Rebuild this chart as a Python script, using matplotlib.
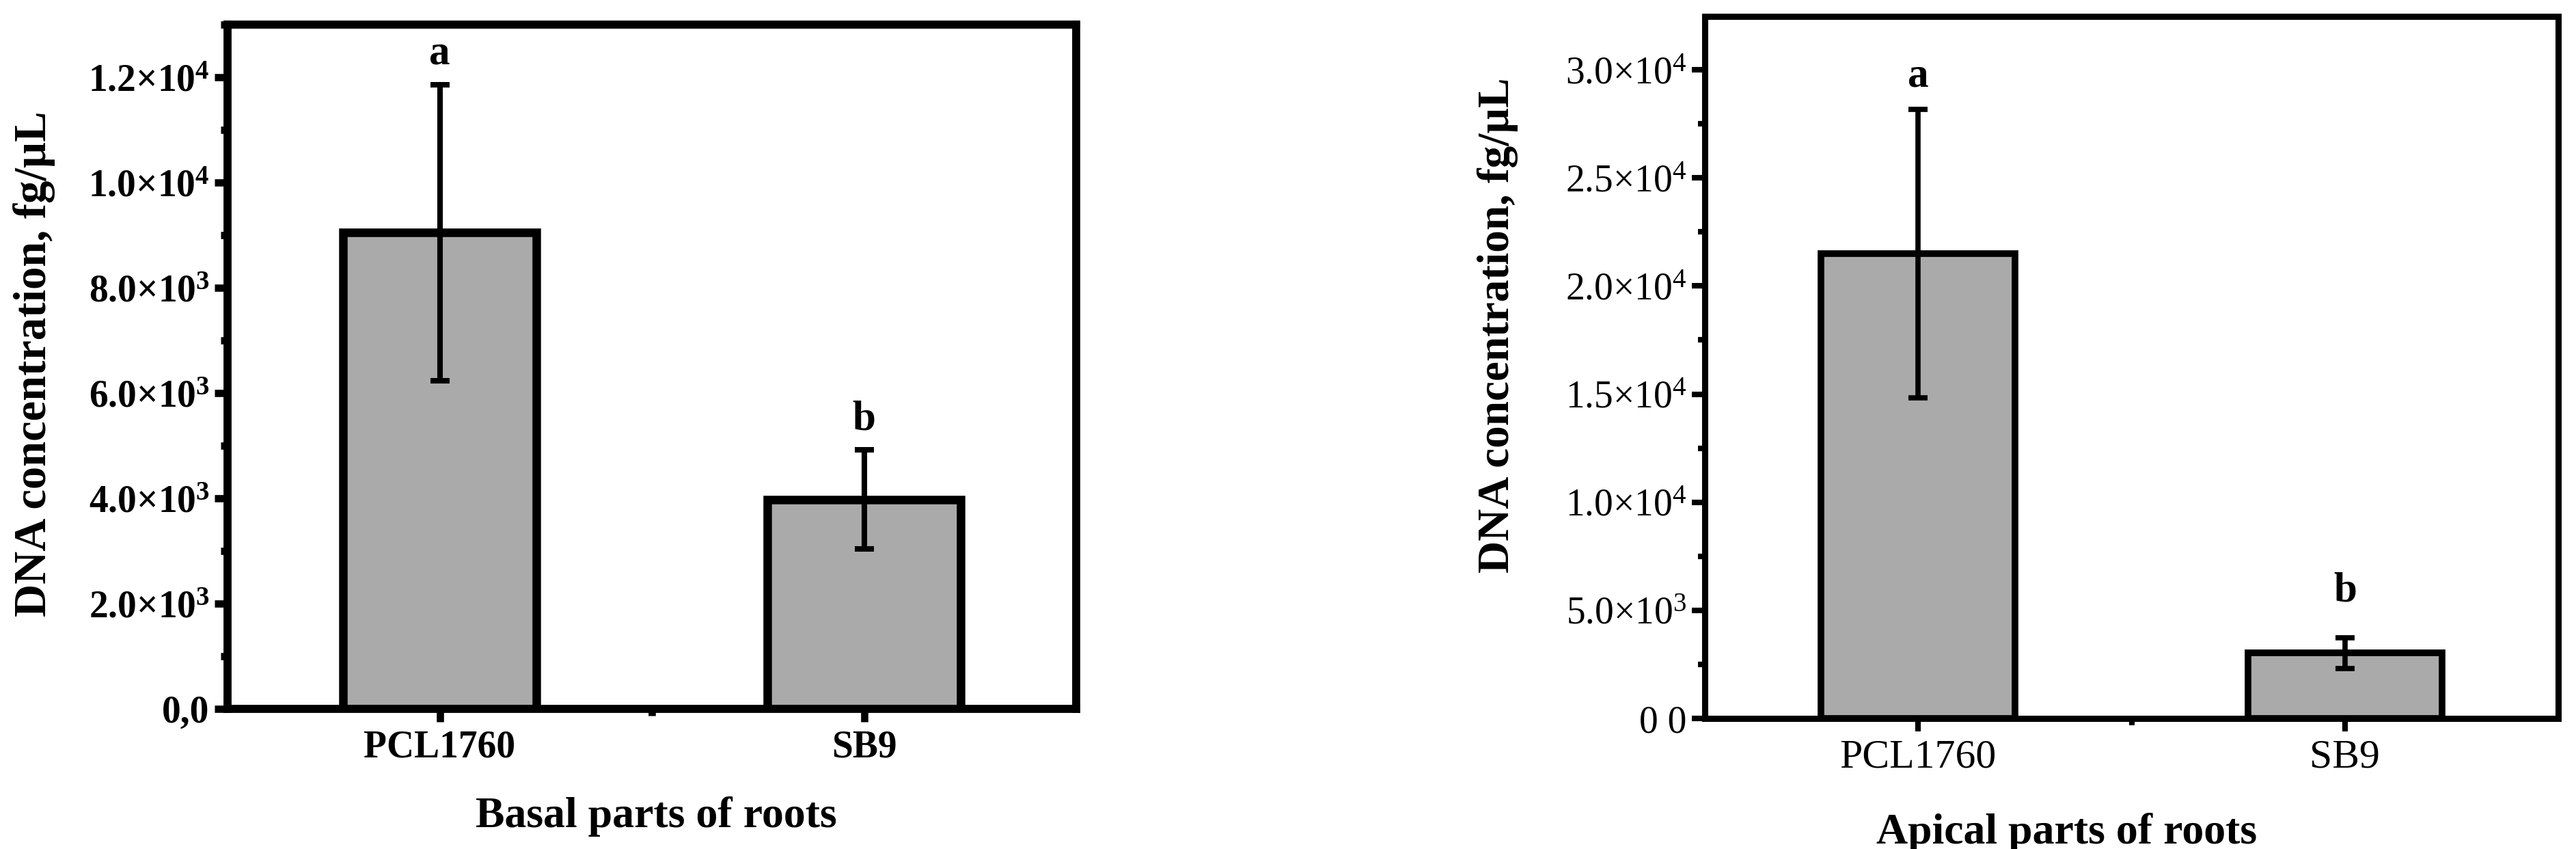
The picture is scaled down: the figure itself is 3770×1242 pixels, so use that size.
import matplotlib
matplotlib.use("Agg")
import matplotlib.pyplot as plt
from matplotlib.ticker import FixedLocator, MultipleLocator

# ---------------- data ----------------
categories = ["PCL1760", "SB9"]

basal_means = [9050, 3980]
basal_err = [2810, 940]
basal_letters = ["a", "b"]
basal_letter_y = [12450, 5500]
basal_yticks = [0, 2000, 4000, 6000, 8000, 10000, 12000]
basal_yticklabels = ["0,0",
                     r"$\mathbf{2.0{\times}10^{3}}$",
                     r"$\mathbf{4.0{\times}10^{3}}$",
                     r"$\mathbf{6.0{\times}10^{3}}$",
                     r"$\mathbf{8.0{\times}10^{3}}$",
                     r"$\mathbf{1.0{\times}10^{4}}$",
                     r"$\mathbf{1.2{\times}10^{4}}$"]

apical_means = [21500, 3030]
apical_err = [6680, 710]
apical_letters = ["a", "b"]
apical_letter_y = [29700, 5900]
apical_yticks = [0, 5000, 10000, 15000, 20000, 25000, 30000]
apical_yticklabels = ["0 0",
                      r"$5.0{\times}10^{3}$",
                      r"$1.0{\times}10^{4}$",
                      r"$1.5{\times}10^{4}$",
                      r"$2.0{\times}10^{4}$",
                      r"$2.5{\times}10^{4}$",
                      r"$3.0{\times}10^{4}$"]

ylabel_text = "DNA concentration, fg/\u00b5L"
basal_xlabel = "Basal parts of roots"
apical_xlabel = "Apical parts of roots"

# ---------------- style ----------------
plt.rcParams['font.family'] = ['Liberation Serif', 'DejaVu Serif']
plt.rcParams['mathtext.fontset'] = 'custom'
plt.rcParams['mathtext.rm'] = 'Liberation Serif'
plt.rcParams['mathtext.it'] = 'Liberation Serif:italic'
plt.rcParams['mathtext.bf'] = 'Liberation Serif:bold'

W, H = 3770, 1242
DPI = 100
fig = plt.figure(figsize=(W / DPI, H / DPI), dpi=DPI)
fig.patch.set_facecolor("white")

BAR_COLOR = "#aaaaaa"


def px_axes(x0, x1, ytop, ybot):
    return fig.add_axes([x0 / W, 1 - ybot / H, (x1 - x0) / W, (ybot - ytop) / H])


def draw_panel(ax, means, errs, letters, letter_y, yticks, yticklabels, ylim,
               minor_step, spine_lw, bar_lw, err_lw, capsize, tick_bold,
               xtick_size, ytick_size):
    x = list(range(len(categories)))
    ax.bar(x, means, width=0.455, color=BAR_COLOR, edgecolor="black",
           linewidth=bar_lw, zorder=2)
    ax.errorbar(x, means, yerr=errs, fmt="none", ecolor="black",
                elinewidth=err_lw, capsize=capsize, capthick=err_lw, zorder=3)
    for xi, lt, ly in zip(x, letters, letter_y):
        ax.text(xi, ly, lt, ha="center", va="center", fontsize=44,
                fontweight="bold")
    ax.set_xlim(-0.5, 1.5)
    ax.set_ylim(*ylim)
    ax.set_xticks(x)
    ax.set_xticklabels(categories, fontsize=xtick_size,
                       fontweight="bold" if tick_bold else "normal")
    ax.xaxis.set_minor_locator(FixedLocator([0.5]))
    ax.set_yticks(yticks)
    ax.set_yticklabels(yticklabels, fontsize=ytick_size,
                       fontweight="bold" if tick_bold else "normal")
    ax.yaxis.set_minor_locator(MultipleLocator(minor_step))
    for s in ax.spines.values():
        s.set_linewidth(spine_lw)
    ax.tick_params(axis="both", which="major", direction="out",
                   length=14, width=spine_lw * 0.9, top=False, right=False)
    ax.tick_params(axis="both", which="minor", direction="out",
                   length=7, width=spine_lw * 0.9, top=False, right=False)
    ax.tick_params(axis="x", which="major", pad=8)
    ax.tick_params(axis="y", which="major", pad=5)


ax1 = px_axes(333, 1575, 36, 1037)
draw_panel(ax1, basal_means, basal_err, basal_letters, basal_letter_y,
           basal_yticks, basal_yticklabels, (0, 13000), 1000,
           spine_lw=8.5, bar_lw=9, err_lw=5.8, capsize=10, tick_bold=True,
           xtick_size=40, ytick_size=40)

ax2 = px_axes(2495, 3744, 24, 1051)
draw_panel(ax2, apical_means, apical_err, apical_letters, apical_letter_y,
           apical_yticks, apical_yticklabels, (0, 32470), 2500,
           spine_lw=6.5, bar_lw=7, err_lw=5.5, capsize=10, tick_bold=False,
           xtick_size=43, ytick_size=40)

fig.text(50 / W, 1 - 532 / H, ylabel_text, rotation=90, ha="center",
         va="center", fontsize=48, fontweight="bold")
fig.text(2192 / W, 1 - 476 / H, ylabel_text, rotation=90, ha="center",
         va="center", fontsize=47, fontweight="bold")
fig.text(960 / W, 1 - 1195 / H, basal_xlabel, ha="center", va="center",
         fontsize=46, fontweight="bold")
fig.text(3025 / W, 1 - 1219 / H, apical_xlabel, ha="center", va="center",
         fontsize=46, fontweight="bold")

fig.savefig("out.png", dpi=DPI, facecolor="white")
